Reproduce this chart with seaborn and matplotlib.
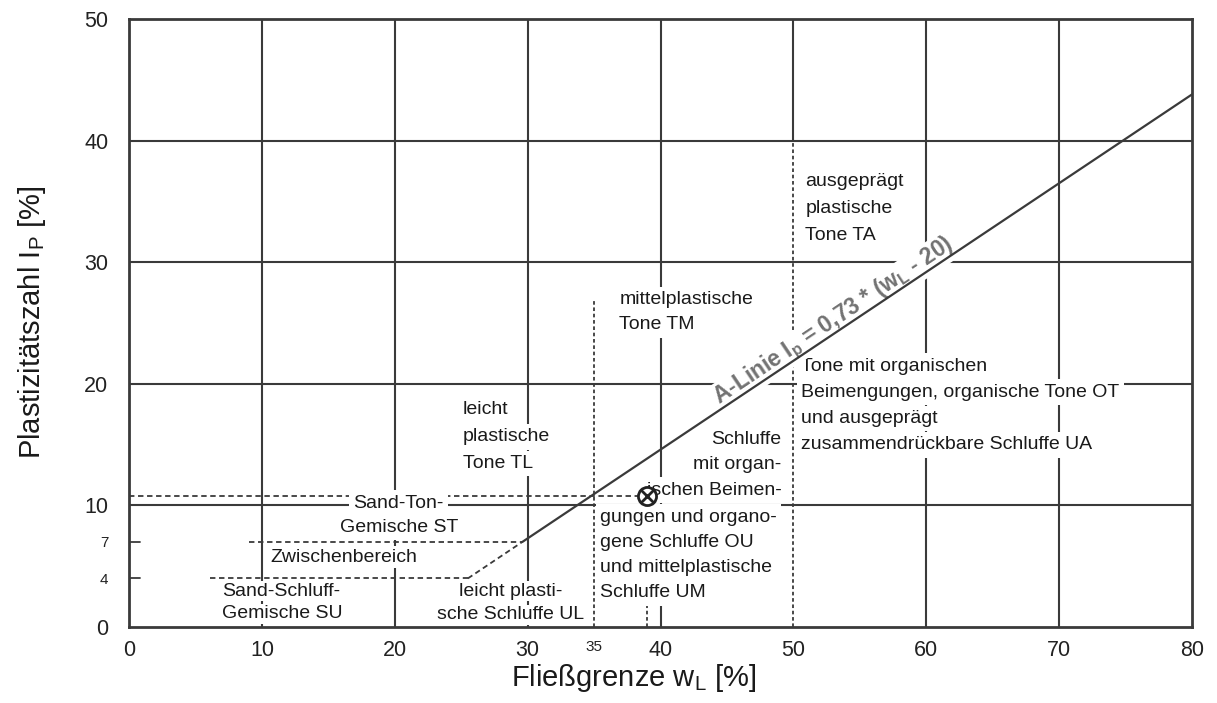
import numpy as np
import matplotlib
matplotlib.use("Agg")
import matplotlib.pyplot as plt
import seaborn as sns

# ---------------- data ----------------
X_TICKS = [0, 10, 20, 30, 35, 40, 50, 60, 70, 80]
Y_TICKS = [0, 4, 7, 10, 20, 30, 40, 50]
SMALL_X_TICKS = [35]
SMALL_Y_TICKS = [4, 7]
GRID_X = [10, 20, 30, 40, 60, 70]
GRID_Y = [10, 20, 30, 40]

A_LINE_WL = [29.6, 80.0]
A_LINE_IP = [7.0, 43.8]
A_LINE_LOW_WL = [25.5, 29.6]
A_LINE_LOW_IP = [4.0, 7.0]

SAMPLE_WL = [39.0]
SAMPLE_IP = [10.8]

# boundary lines: (x0, x1, y) horizontal ; (x, y0, y1) vertical
H_DASHED = [(0.0, 39.0, 10.8), (9.0, 29.6, 7.0), (6.1, 25.5, 4.0)]
H_STUBS = [(0.0, 0.8, 7.0), (0.0, 0.8, 4.0)]
V_DASHED = [(35.0, 0.0, 27.0), (50.0, 0.0, 40.0), (39.0, 0.0, 10.8)]
V_SOLID = [(50.0, 40.0, 50.0)]

# text lines, anchor x, first-line centre y (data), line pitch (in Ip units), ha
REGION_LABELS = [
    (["ausgeprägt", "plastische", "Tone TA"], 50.9, 36.6, 2.2, "left"),
    (["mittelplastische", "Tone TM"], 36.9, 26.9, 2.05, "left"),
    (["Tone mit organischen", "Beimengungen, organische Tone OT",
      "und ausgeprägt", "zusammendrückbare Schluffe UA"], 50.6, 21.45, 2.15, "left"),
    (["leicht", "plastische", "Tone TL"], 25.1, 17.85, 2.2, "left"),
    (["Schluffe", "mit organ-", "ischen Beimen-"], 49.1, 15.4, 2.07, "right"),
    (["gungen und organo-", "gene Schluffe OU", "und mittelplastische",
      "Schluffe UM"], 35.45, 9.05, 2.07, "left"),
    (["Sand-Ton-", "Gemische ST"], 20.3, 10.2, 2.0, "center"),
    (["Zwischenbereich"], 16.2, 5.76, 2.0, "center"),
    (["Sand-Schluff-", "Gemische SU"], 7.0, 2.95, 1.85, "left"),
    (["leicht plasti-", "sche Schluffe UL"], 28.7, 2.95, 1.95, "center"),
]

# ---------------- style ----------------
sns.set_theme(style="white")
plt.rcParams["font.family"] = ["Liberation Sans", "DejaVu Sans"]
plt.rcParams["mathtext.fontset"] = "custom"
plt.rcParams["mathtext.rm"] = "Liberation Sans"
plt.rcParams["mathtext.bf"] = "Liberation Sans:bold"

LINE_C = "#3a3a3a"
TEXT_C = "#1a1a1a"
PAD_OVERRIDE = {"Sand-Schluff-": 1.0, "leicht plasti-": 1.0, "Zwischenbereich": 1.8}

fig = plt.figure(figsize=(12.17, 7.03), dpi=100)
ax = fig.add_axes([0.106, 0.108, 0.8735, 0.865])
ax.set_xlim(0, 80)
ax.set_ylim(0, 50)

# grid
for gx in GRID_X:
    ax.axvline(gx, color=LINE_C, lw=1.5, zorder=1)
for gy in GRID_Y:
    ax.axhline(gy, color=LINE_C, lw=1.5, zorder=1)
for x, y0, y1 in V_SOLID:
    ax.plot([x, x], [y0, y1], color=LINE_C, lw=1.5, zorder=1)

# dashed boundaries
for x0, x1, y in H_DASHED:
    ax.plot([x0, x1], [y, y], color=LINE_C, lw=1.3, ls=(0, (3, 2)), zorder=2)
for x0, x1, y in H_STUBS:
    ax.plot([x0, x1], [y, y], color=LINE_C, lw=1.3, zorder=2)
for x, y0, y1 in V_DASHED:
    ax.plot([x, x], [y0, y1], color=LINE_C, lw=1.3, ls=(0, (2, 1.5)), zorder=2)

# region labels (one text per line, each masking the grid behind it)
for lines, x, y0, pitch, ha in REGION_LABELS:
    pad = PAD_OVERRIDE.get(lines[0], 3.2)
    for i, line in enumerate(lines):
        ax.text(x, y0 - i * pitch, line, ha=ha, va="center", fontsize=14,
                color=TEXT_C, zorder=5,
                bbox=dict(facecolor="white", edgecolor="none", pad=pad))

# A-line label
slope_angle = np.degrees(np.arctan((A_LINE_IP[1] - A_LINE_IP[0]) / (A_LINE_WL[1] - A_LINE_WL[0])))
screen_angle = ax.transData.transform_angles(np.array([slope_angle]), np.array([[50.0, 22.0]]))[0]
ax.text(53.3, 24.75, r"A-Linie $\mathregular{I_p}$ = 0,73 * ($\mathregular{w_L}$ - 20)",
        rotation=screen_angle, rotation_mode="anchor", ha="center", va="baseline",
        fontsize=16.5, fontweight="bold", color="#727272", zorder=6,
        bbox=dict(facecolor="white", edgecolor="none", pad=1.0))

# A-line (drawn above the label masks)
sns.lineplot(x=A_LINE_WL, y=A_LINE_IP, ax=ax, color=LINE_C, lw=1.6, zorder=7)
sns.lineplot(x=A_LINE_LOW_WL, y=A_LINE_LOW_IP, ax=ax, color=LINE_C, lw=1.3,
             linestyle=(0, (3, 2)), zorder=7)

# sample point
sns.scatterplot(x=SAMPLE_WL, y=SAMPLE_IP, ax=ax, marker="o", s=170,
                facecolor="white", edgecolor="#222222", linewidth=2.0, zorder=8)
sns.scatterplot(x=SAMPLE_WL, y=SAMPLE_IP, ax=ax, marker="x", s=80,
                color="#222222", linewidth=2.0, zorder=9)

# axes / ticks
for sp in ax.spines.values():
    sp.set_color(LINE_C)
    sp.set_linewidth(2.0)
    sp.set_zorder(10)
ax.set_xticks(X_TICKS)
ax.set_yticks(Y_TICKS)
ax.set_xticklabels([str(t) for t in X_TICKS])
ax.set_yticklabels([str(t) for t in Y_TICKS])
ax.tick_params(axis="both", length=0, colors="#222222", labelsize=15.5)
ax.tick_params(axis="x", pad=9)
ax.tick_params(axis="y", pad=15)
for lab, t in zip(ax.get_xticklabels(), X_TICKS):
    if t in SMALL_X_TICKS:
        lab.set_fontsize(11)
for lab, t in zip(ax.get_yticklabels(), Y_TICKS):
    if t in SMALL_Y_TICKS:
        lab.set_fontsize(11)

ax.set_xlabel(r"Fließgrenze $\mathregular{w_L}$ [%]", fontsize=21, color=TEXT_C)
ax.set_ylabel(r"Plastizitätszahl $\mathregular{I_P}$ [%]", fontsize=21, color=TEXT_C)
ax.xaxis.set_label_coords((634 - 129) / 1063, -(662 - 627) / 608)
ax.yaxis.set_label_coords((48 - 129) / 1063, 0.502)

fig.savefig("out.png", dpi=100)
